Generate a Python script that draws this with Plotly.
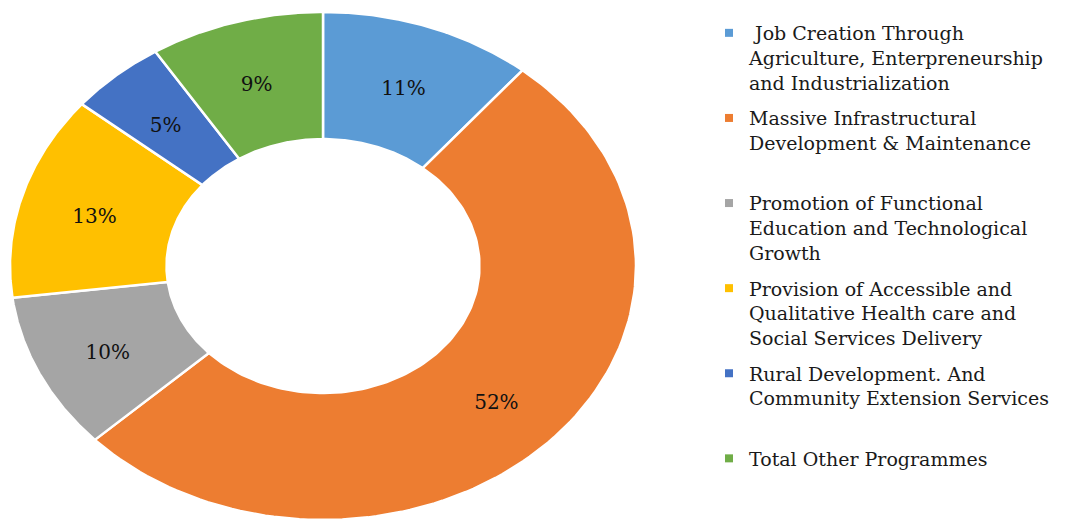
"""Donut chart of programme allocation shares, drawn with Plotly."""
import numpy as np
import plotly.graph_objects as go

# Data
categories = [
    "\u00a0Job Creation Through<br>Agriculture, Enterpreneurship<br>and Industrialization",
    "Massive Infrastructural<br>Development & Maintenance<br>\u00a0",
    "Promotion of Functional<br>Education and Technological<br>Growth",
    "Provision of Accessible and<br>Qualitative Health care and<br>Social Services Delivery",
    "Rural Development. And<br>Community Extension Services<br>\u00a0",
    "Total Other Programmes",
]
shares = [11, 52, 10, 13, 5, 9]
colors = ['#5B9BD5', '#ED7D31', '#A5A5A5', '#FFC000', '#4472C4', '#70AD47']

W, H = 1091, 520
OFF = 8  # page body margin of the html page, compensated here
HOLE = 0.5
LABEL_R = 0.76
LABEL_DY = -0.022  # nudge labels slightly down
FONT = "DejaVu Serif"


def create_donut_chart() -> go.Figure:
    """Build an elliptical donut (slices clockwise from 12 o'clock)."""
    fig = go.Figure()

    total = float(sum(shares))
    bounds = np.concatenate([[0.0], np.cumsum(shares)]) / total * 2 * np.pi

    mid_x, mid_y, texts = [], [], []
    for i, (name, val, col) in enumerate(zip(categories, shares, colors)):
        a0, a1 = bounds[i], bounds[i + 1]
        t = np.linspace(a0, a1, 120)
        # outer arc forward, inner arc back
        xs = np.concatenate([np.sin(t), HOLE * np.sin(t[::-1])])
        ys = np.concatenate([np.cos(t), HOLE * np.cos(t[::-1])])
        fig.add_trace(go.Scatter(
            x=np.append(xs, xs[0]),
            y=np.append(ys, ys[0]),
            mode='lines',
            fill='toself',
            fillcolor=col,
            line=dict(color='white', width=2.5),
            showlegend=False,
            hoverinfo='skip',
        ))
        am = (a0 + a1) / 2
        mid_x.append(LABEL_R * np.sin(am))
        mid_y.append(LABEL_R * np.cos(am) + LABEL_DY)
        texts.append(f"{val / total * 100:.0f}%")

        # legend-only entry with a small square marker
        fig.add_trace(go.Scatter(
            x=[None], y=[None],
            mode='markers',
            name=name,
            legendgroup=f"g{i}",
            marker=dict(symbol='square', size=8, color=col),
            showlegend=True,
        ))

    # Percentage labels
    fig.add_trace(go.Scatter(
        x=mid_x, y=mid_y,
        mode='text',
        text=texts,
        textfont=dict(family=FONT, size=20, color='#111111'),
        showlegend=False,
        hoverinfo='skip',
    ))

    fig.update_layout(
        xaxis=dict(range=[-1, 1],
                   domain=[(10 - OFF) / W, (636 - OFF) / W],
                   visible=False, fixedrange=True),
        yaxis=dict(range=[-1, 1],
                   domain=[OFF / H, 1 - (12 - OFF) / H],
                   visible=False, fixedrange=True),
        legend=dict(
            x=(709 - OFF) / W, xanchor='left',
            y=1 - (14 - OFF) / H, yanchor='top',
            valign='top',
            itemwidth=30,
            tracegroupgap=8,
            font=dict(family=FONT, size=19, color='#1a1a1a'),
            bgcolor='rgba(0,0,0,0)',
        ),
        plot_bgcolor='white',
        paper_bgcolor='white',
        width=W,
        height=H,
        margin=dict(l=0, r=0, t=0, b=0),
    )
    return fig


fig = create_donut_chart()
fig.write_html("out.html")
